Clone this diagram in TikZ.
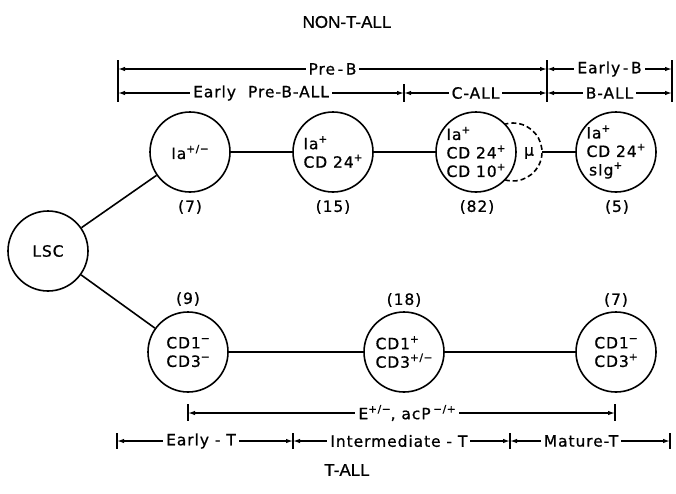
\documentclass[tikz,border=0pt]{standalone}
\usepackage{fontspec}
\setmainfont{DejaVu Sans}[LetterSpace=6,FakeBold=0.8]
\newfontfamily\titlefont{Liberation Sans}[FakeBold=0.8]
\usetikzlibrary{arrows.meta}
\newcommand\sups[1]{\raisebox{0.42em}{\fontsize{10.5}{10.5}\selectfont #1}}
\begin{document}
\begin{tikzpicture}[x=1pt,y=-1pt,
  cell/.style={circle, draw, line width=1.6pt, minimum size=80pt, inner sep=0pt, align=left, font=\fontsize{15.5}{18.5}\selectfont},
  count/.style={inner sep=1pt, font=\fontsize{15.5}{18}\selectfont},
  link/.style={line width=1.6pt},
  dim/.style={line width=1.3pt, {Latex[length=7pt,width=4.5pt]}-{Latex[length=7pt,width=4.5pt]}},
  dimtext/.style={fill=white, inner sep=3pt, font=\fontsize{15.5}{18}\selectfont},
  bar/.style={line width=1.6pt},
  title/.style={font=\titlefont\fontsize{17}{19}\selectfont}
]
\useasboundingbox (0,0) rectangle (676,493);

% titles
\node[title] (tnon) at (347,22) {NON-T-ALL};
\node[title] (tall) at (347,470) {T-ALL};

% cells
\node[cell] (lsc) at (48,251) {LSC};
\node[cell] (c1) at (190,152) {Ia\sups{+/−}};
\node[cell] (c2) at (333,152) {Ia\sups{+}\\CD 24\sups{+}};
\node[cell] (c3) at (476,152) {Ia\sups{+}\\CD 24\sups{+}\\CD 10\sups{+}};
\node[cell] (c4) at (616,152) {Ia\sups{+}\\CD 24\sups{+}\\\,sIg\sups{+}};
\node[cell] (c5) at (188,352) {CD1\sups{−}\\CD3\sups{−}};
\node[cell] (c6) at (404,352) {CD1\sups{+}\\CD3\sups{+/−}};
\node[cell] (c7) at (616,352) {CD1\sups{−}\\CD3\sups{+}};

% mu bulge
\node[circle, minimum size=58pt, inner sep=0pt] (mu) at (513,152) {};
\node[font=\fontsize{15.5}{18}\selectfont, inner sep=0pt] (mut) at (529,153) {μ};
\draw[link, dashed, dash pattern=on 5pt off 3pt] ([shift={(106.4:29)}]mu.center) arc[start angle=106.4, end angle=-106.4, radius=29];

% counts
\node[count] (n1) at (190,207) {(7)};
\node[count] (n2) at (333,207) {(15)};
\node[count] (n3) at (477,207) {(82)};
\node[count] (n4) at (617,207) {(5)};
\node[count] (n5) at (188,299) {(9)};
\node[count] (n6) at (404,300) {(18)};
\node[count] (n7) at (616,300) {(7)};

% connectors
\draw[link] (lsc) -- (c1);
\draw[link] (lsc) -- (c5);
\draw[link] (c1) -- (c2);
\draw[link] (c2) -- (c3);
\draw[link] (mu.east) -- (c4);
\draw[link] (c5) -- (c6);
\draw[link] (c6) -- (c7);

% top dimension lines
\coordinate (ta1) at (118,69); \coordinate (ta2) at (547,69); \coordinate (ta3) at (672,69);
\coordinate (tb1) at (118,93); \coordinate (tb2) at (404,93); \coordinate (tb3) at (547,93); \coordinate (tb4) at (672,93);
\draw[dim] (ta1) -- node[dimtext] {Pre\,-\,B} (ta2);
\draw[dim] (ta2) -- node[dimtext] {Early\,-\,B} (ta3);
\draw[dim] (tb1) -- node[dimtext] {Early\hspace{12pt}Pre-B-ALL} (tb2);
\draw[dim] (tb2) -- node[dimtext] {C-ALL} (tb3);
\draw[dim] (tb3) -- node[dimtext] {B-ALL} (tb4);
\coordinate (v1t) at (118,60); \coordinate (v1b) at (118,102);
\coordinate (v2t) at (547,60); \coordinate (v2b) at (547,102);
\coordinate (v3t) at (672,60); \coordinate (v3b) at (672,102);
\coordinate (v4t) at (404,84); \coordinate (v4b) at (404,102);
\draw[bar] (v1t) -- (v1b);
\draw[bar] (v2t) -- (v2b);
\draw[bar] (v3t) -- (v3b);
\draw[bar] (v4t) -- (v4b);

% bottom dimension lines
\coordinate (ea) at (188,413); \coordinate (eb) at (615,413);
\draw[dim] (ea) -- node[dimtext, pos=0.513] {E\sups{+/−}, acP\,\sups{−/+}} (eb);
\coordinate (ba1) at (117,441); \coordinate (ba2) at (293,441); \coordinate (ba3) at (510,441); \coordinate (ba4) at (670,441);
\draw[dim] (ba1) -- node[dimtext, pos=0.477] {Early - T} (ba2);
\draw[dim] (ba2) -- node[dimtext, pos=0.488] {Intermediate - T} (ba3);
\draw[dim] (ba3) -- node[dimtext, pos=0.444] {Mature-T} (ba4);
\coordinate (w1t) at (188,404); \coordinate (w1b) at (188,421);
\coordinate (w2t) at (615,404); \coordinate (w2b) at (615,421);
\coordinate (w3t) at (117,433); \coordinate (w3b) at (117,449);
\coordinate (w4t) at (293,433); \coordinate (w4b) at (293,449);
\coordinate (w5t) at (510,433); \coordinate (w5b) at (510,449);
\coordinate (w6t) at (670,433); \coordinate (w6b) at (670,449);
\draw[bar] (w1t) -- (w1b);
\draw[bar] (w2t) -- (w2b);
\draw[bar] (w3t) -- (w3b);
\draw[bar] (w4t) -- (w4b);
\draw[bar] (w5t) -- (w5b);
\draw[bar] (w6t) -- (w6b);
\end{tikzpicture}
\end{document}
